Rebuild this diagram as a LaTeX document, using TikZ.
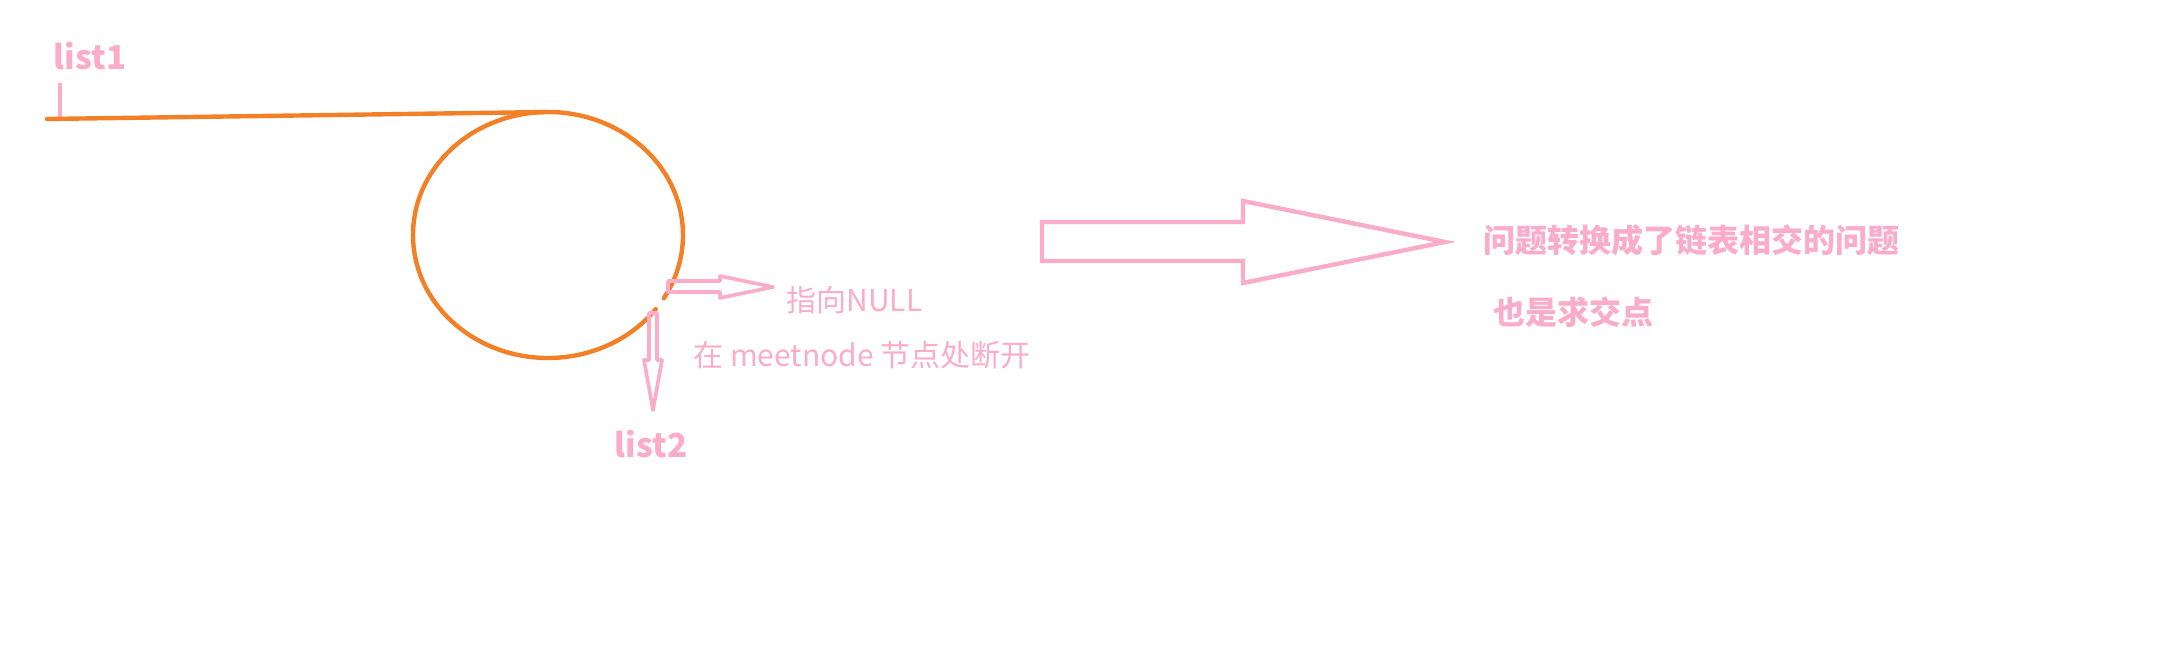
\documentclass[tikz,border=0pt]{standalone}
\usepackage{fontspec}
\usetikzlibrary{calc}
\setmainfont{Noto Sans CJK SC}
\definecolor{rose}{RGB}{250,172,200}
\definecolor{paintorange}{RGB}{243,128,38}
\tikzset{
  loopline/.style={draw=paintorange, line width=2.2pt, line cap=round},
  smallarrow/.style={draw=rose, line width=1.8pt, line join=round},
  bigarrow/.style={draw=rose, line width=2.2pt, line join=miter},
  tick/.style={draw=rose, line width=1.6pt},
  thinlabel/.style={text=rose, font=\fontsize{15}{18}\selectfont, inner sep=0pt},
  boldlabel/.style={text=rose, font=\bfseries\fontsize{16}{19}\selectfont, inner sep=0pt},
}
\begin{document}
\begin{tikzpicture}[x=0.5pt,y=-0.5pt]
\useasboundingbox (0,0) rectangle (2178,657);
% list1 and its tick
\node[boldlabel, font=\bfseries\fontsize{16.5}{19}\selectfont] (list1) at (90,56) {list1};
\coordinate (tickTop) at (60,83);
\coordinate (start) at (47,119);
\draw[tick] (tickTop) -- (60,118);
% orange list with loop
\coordinate (loopTop) at (548,112);
\draw[loopline] (start) -- (loopTop);
\coordinate (c) at (548,235);
\draw[loopline] ($(c)+({135*cos(37)},{123*sin(37)})$) arc[start angle=37, end angle=391, x radius=135, y radius=123];
% arrow to NULL
\draw[smallarrow] (668,281) -- (720,281) -- (720,276) -- (773,287) -- (720,298) -- (720,292) -- (668,292) -- cycle;
\node[thinlabel, anchor=west] (null) at (786,300) {指向NULL};
% arrow down to list2
\draw[smallarrow] (649,313) -- (657,313) -- (657,360) -- (662,360) -- (653,410) -- (644,360) -- (649,360) -- cycle;
\node[thinlabel, anchor=west] (cut) at (693,355) {在 meetnode 节点处断开};
\node[boldlabel, font=\bfseries\fontsize{16.5}{19}\selectfont] (list2) at (651,444) {list2};
% big arrow
\draw[bigarrow] (1042,222) -- (1243,222) -- (1243,201) -- (1445,242) -- (1243,283) -- (1243,261) -- (1042,261) -- cycle;
\node[boldlabel, anchor=west] (t1) at (1483,240) {问题转换成了链表相交的问题};
\node[boldlabel, anchor=west] (t2) at (1493,312) {也是求交点};
\end{tikzpicture}
\end{document}
